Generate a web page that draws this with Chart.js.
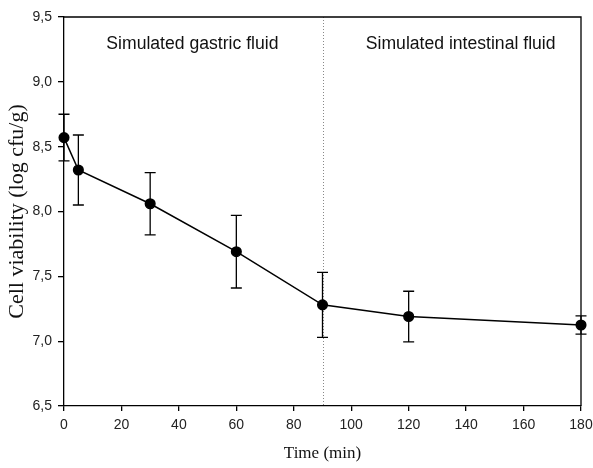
<!DOCTYPE html>
<html>
<head>
<meta charset="utf-8">
<script src="https://cdn.jsdelivr.net/npm/chart.js@4/dist/chart.umd.min.js"></script>
<style>
html,body{margin:0;padding:0;background:#fff;}
#wrap{width:593px;height:468px;position:relative;}
</style>
</head>
<body>
<div id="wrap"><canvas id="c" width="593" height="468"></canvas></div>
<script>
const times = [0, 5, 30, 60, 90, 120, 180];
const viability = [8.57, 8.32, 8.06, 7.69, 7.28, 7.19, 7.125];
const errors = [0.18, 0.27, 0.24, 0.28, 0.25, 0.195, 0.07];
const phaseBoundary = 90;
const phaseLabels = ["Simulated gastric fluid", "Simulated intestinal fluid"];
const phaseLabelX = [44.7, 138.1];
const phaseLabelY = 9.29;
const xTitle = "Time (min)";
const yTitle = "Cell viability (log cfu/g)";

const extras = {
  id: 'extras',
  beforeDatasetsDraw(chart) {
    const {ctx, chartArea, scales} = chart;
    const xs = scales.x, ys = scales.y;
    ctx.save();
    const bx = Math.round(xs.getPixelForValue(phaseBoundary)) + 0.5;
    ctx.strokeStyle = '#888';
    ctx.lineWidth = 1;
    ctx.setLineDash([1, 2]);
    ctx.beginPath();
    ctx.moveTo(bx, chartArea.top);
    ctx.lineTo(bx, chartArea.bottom);
    ctx.stroke();
    ctx.setLineDash([]);
    ctx.strokeStyle = '#000';
    ctx.lineWidth = 1.3;
    times.forEach((t, i) => {
      const x = xs.getPixelForValue(t);
      const yt = ys.getPixelForValue(viability[i] + errors[i]);
      const yb = ys.getPixelForValue(viability[i] - errors[i]);
      ctx.beginPath();
      ctx.moveTo(x, yt); ctx.lineTo(x, yb);
      ctx.moveTo(x - 5.5, yt); ctx.lineTo(x + 5.5, yt);
      ctx.moveTo(x - 5.5, yb); ctx.lineTo(x + 5.5, yb);
      ctx.stroke();
    });
    ctx.fillStyle = '#111';
    ctx.font = '17.6px "Liberation Sans", Arial, sans-serif';
    ctx.textAlign = 'center';
    ctx.textBaseline = 'middle';
    phaseLabels.forEach((s, i) => {
      ctx.fillText(s, xs.getPixelForValue(phaseLabelX[i]), ys.getPixelForValue(phaseLabelY));
    });
    ctx.restore();
  },
  afterDraw(chart) {
    const {ctx, chartArea} = chart;
    ctx.save();
    ctx.strokeStyle = '#000';
    ctx.lineWidth = 1.3;
    ctx.beginPath();
    ctx.moveTo(chartArea.left, chartArea.top);
    ctx.lineTo(chartArea.right, chartArea.top);
    ctx.lineTo(chartArea.right, chartArea.bottom);
    ctx.stroke();
    ctx.restore();
  }
};

const fmt = v => Number(v).toFixed(1).replace('.', ',');

new Chart(document.getElementById('c'), {
  type: 'line',
  data: {
    datasets: [{
      data: times.map((t, i) => ({x: t, y: viability[i]})),
      borderColor: '#000',
      backgroundColor: '#000',
      borderWidth: 1.5,
      pointRadius: 4.8,
      pointHoverRadius: 4.8,
      pointBackgroundColor: '#000',
      pointBorderColor: '#000',
      tension: 0,
      clip: false
    }]
  },
  options: {
    responsive: false,
    animation: false,
    events: [],
    layout: {padding: {top: 17, right: 0, left: 0, bottom: 0}},
    plugins: {legend: {display: false}, tooltip: {enabled: false}},
    scales: {
      x: {
        type: 'linear', min: 0, max: 180,
        afterFit(s) { s.height = 62; s.paddingRight = 12; s.paddingLeft = 0; },
        ticks: {stepSize: 20, color: '#222', padding: 6,
          font: {family: '"Liberation Sans", Arial, sans-serif', size: 14}},
        grid: {display: true, drawOnChartArea: false, drawTicks: true, tickLength: 5, color: '#000', lineWidth: 1.3},
        border: {display: true, color: '#000', width: 1.3},
        title: {display: true, text: xTitle, color: '#111',
          font: {family: '"Liberation Serif", "Times New Roman", serif', size: 17},
          padding: {top: 13}}
      },
      y: {
        type: 'linear', min: 6.5, max: 9.5,
        afterFit(s) { s.width = 64; },
        ticks: {stepSize: 0.5, color: '#222', padding: 6, callback: fmt,
          font: {family: '"Liberation Sans", Arial, sans-serif', size: 14}},
        grid: {display: true, drawOnChartArea: false, drawTicks: true, tickLength: 6, color: '#000', lineWidth: 1.3},
        border: {display: true, color: '#000', width: 1.3},
        title: {display: true, text: yTitle, color: '#111',
          font: {family: '"Liberation Serif", "Times New Roman", serif', size: 22},
          padding: {top: 4, bottom: 0}}
      }
    }
  },
  plugins: [extras]
});
</script>
</body>
</html>
